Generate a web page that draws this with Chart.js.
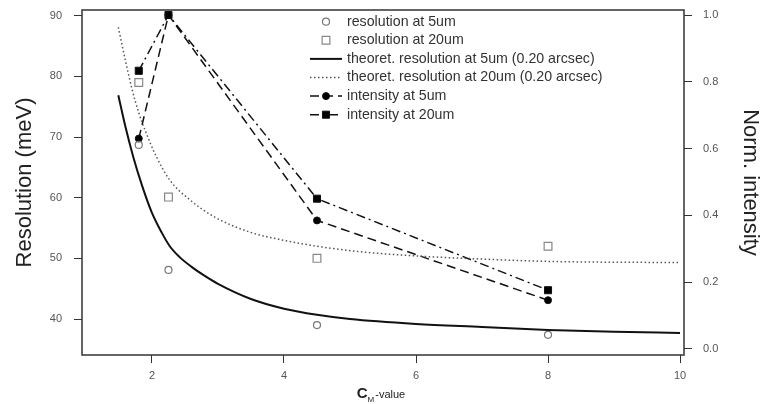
<!DOCTYPE html>
<html>
<head>
<meta charset="utf-8">
<script src="https://cdn.jsdelivr.net/npm/chart.js@4.4.1/dist/chart.umd.min.js"></script>
<style>
    html, body { margin: 0; padding: 0; background: #fff; }
    #wrap { width: 773px; height: 404px; position: relative; }
</style>
</head>
<body>
<div id="wrap"><canvas id="resChart"></canvas></div>
<script>
// measured points (C_M value on x)
const cmValues = [1.8, 2.25, 4.5, 8];
const res5um = [68.7, 48.1, 39.0, 37.4];
const res20um = [79.0, 60.1, 50.0, 52.0];
const int5um = [0.63, 1.0, 0.385, 0.146];
const int20um = [0.833, 1.0, 0.45, 0.176];

// theoretical curves
const theoX5 = [1.49, 1.6, 1.72, 1.85, 2.0, 2.15, 2.27, 2.42, 2.6, 2.8, 3.0, 3.5, 4.0, 4.5, 5.0, 6.0, 7.0, 8.0, 9.0, 10.0];
const theoY5 = [76.9, 71.6, 66.6, 62.0, 57.5, 54.2, 52.0, 50.2, 48.6, 47.1, 45.8, 43.3, 41.7, 40.7, 40.0, 39.2, 38.7, 38.2, 37.9, 37.7];
const theoX20 = [1.49, 1.6, 1.7, 1.8, 1.9, 2.07, 2.27, 2.58, 2.95, 3.49, 3.94, 4.5, 5.15, 6.0, 6.97, 8.0, 10.0];
const theoY20 = [88.1, 82.5, 77.8, 74.0, 71.0, 66.7, 62.9, 59.6, 56.8, 54.3, 53.1, 52.0, 51.1, 50.4, 49.9, 49.5, 49.3];

// tick labels
const xTicks = [2, 4, 6, 8, 10];
const resTicks = [40, 50, 60, 70, 80, 90];
const intTicks = [0, 0.2, 0.4, 0.6, 0.8, 1.0];

const toPoints = (xs, ys) => xs.map((x, i) => ({ x: x, y: ys[i] }));

const FONT = 'Liberation Sans, Arial, sans-serif';

// 축 라벨 때문에 플롯 영역이 줄어들지 않도록
const noPadding = (scale) => {
    scale.paddingTop = 0;
    scale.paddingBottom = 0;
    scale.paddingLeft = 0;
    scale.paddingRight = 0;
};

// 테두리, 범례, x축 제목
const frameAndLegend = {
    id: 'frameAndLegend',
    afterDraw: (chart) => {
        const { ctx, chartArea } = chart;
        ctx.save();

        ctx.strokeStyle = '#333';
        ctx.lineWidth = 1.5;
        ctx.strokeRect(chartArea.left, chartArea.top, chartArea.right - chartArea.left, chartArea.bottom - chartArea.top);

        // legend
        const lineX1 = chartArea.left + 228;
        const lineX2 = chartArea.left + 260;
        const textX = chartArea.left + 265;
        chart.data.datasets.forEach((ds, i) => {
            const y = chartArea.top + 11.7 + i * 18.6;
            if (ds.showLine) {
                ctx.beginPath();
                ctx.strokeStyle = ds.borderColor;
                ctx.lineWidth = ds.borderWidth;
                ctx.setLineDash(ds.borderDash || []);
                ctx.moveTo(lineX1, y);
                ctx.lineTo(lineX2, y);
                ctx.stroke();
                ctx.setLineDash([]);
            }
            if (ds.pointRadius > 0) {
                ctx.fillStyle = ds.backgroundColor;
                ctx.strokeStyle = ds.borderColor;
                ctx.lineWidth = ds.pointBorderWidth;
                Chart.helpers.drawPoint(ctx, {
                    pointStyle: ds.pointStyle,
                    radius: ds.pointRadius,
                    rotation: 0,
                    borderWidth: ds.pointBorderWidth
                }, (lineX1 + lineX2) / 2, y);
            }
            ctx.fillStyle = '#333';
            ctx.font = '14.2px ' + FONT;
            ctx.textAlign = 'left';
            ctx.textBaseline = 'middle';
            ctx.fillText(ds.label, textX, y);
        });

        // x axis title: C with subscript M
        const cx = (chartArea.left + chartArea.right) / 2;
        const base = 398;
        ctx.fillStyle = '#222';
        ctx.textBaseline = 'alphabetic';
        ctx.font = 'bold 15px ' + FONT;
        const wC = ctx.measureText('C').width;
        ctx.font = '8px ' + FONT;
        const wM = ctx.measureText('M').width;
        ctx.font = '11px ' + FONT;
        const wV = ctx.measureText('-value').width;
        let x = cx - (wC + wM + 1 + wV) / 2 - 2;
        ctx.font = 'bold 15px ' + FONT;
        ctx.fillText('C', x, base);
        x += wC;
        ctx.font = '8px ' + FONT;
        ctx.fillText('M', x, base + 4);
        x += wM + 1;
        ctx.font = '11px ' + FONT;
        ctx.fillText('-value', x, base);

        ctx.restore();
    }
};

new Chart(document.getElementById('resChart'), {
    type: 'scatter',
    data: {
        datasets: [{
            label: 'resolution at 5um',
            data: toPoints(cmValues, res5um),
            yAxisID: 'y',
            showLine: false,
            pointStyle: 'circle',
            pointRadius: 3.5,
            pointBorderWidth: 1.2,
            borderColor: '#777',
            backgroundColor: 'rgba(255,255,255,0)'
        }, {
            label: 'resolution at 20um',
            data: toPoints(cmValues, res20um),
            yAxisID: 'y',
            showLine: false,
            pointStyle: 'rect',
            pointRadius: 5.5,
            pointBorderWidth: 1.2,
            borderColor: '#888',
            backgroundColor: 'rgba(255,255,255,0)'
        }, {
            label: 'theoret. resolution at 5um (0.20 arcsec)',
            data: toPoints(theoX5, theoY5),
            yAxisID: 'y',
            showLine: true,
            pointRadius: 0,
            borderColor: '#111',
            borderWidth: 2,
            cubicInterpolationMode: 'monotone'
        }, {
            label: 'theoret. resolution at 20um (0.20 arcsec)',
            data: toPoints(theoX20, theoY20),
            yAxisID: 'y',
            showLine: true,
            pointRadius: 0,
            borderColor: '#555',
            borderWidth: 1.5,
            borderDash: [1.5, 2.5],
            cubicInterpolationMode: 'monotone'
        }, {
            label: 'intensity at 5um',
            data: toPoints(cmValues, int5um),
            yAxisID: 'y2',
            showLine: true,
            borderColor: '#111',
            borderWidth: 1.5,
            borderDash: [9, 5],
            pointStyle: 'circle',
            pointRadius: 3.5,
            pointBorderWidth: 1,
            backgroundColor: '#000'
        }, {
            label: 'intensity at 20um',
            data: toPoints(cmValues, int20um),
            yAxisID: 'y2',
            showLine: true,
            borderColor: '#111',
            borderWidth: 1.5,
            borderDash: [9, 4, 2, 4],
            pointStyle: 'rect',
            pointRadius: 5,
            pointBorderWidth: 1,
            backgroundColor: '#000'
        }]
    },
    options: {
        responsive: true,
        maintainAspectRatio: false,
        animation: false,
        layout: { padding: { top: 10 } },
        plugins: {
            legend: { display: false },
            tooltip: { enabled: false }
        },
        scales: {
            x: {
                type: 'linear',
                min: 0.94,
                max: 10.06,
                afterBuildTicks: (scale) => { scale.ticks = xTicks.map(v => ({ value: v })); },
                afterFit: (scale) => { scale.height = 49; noPadding(scale); },
                border: { display: false },
                grid: { drawOnChartArea: false, tickLength: 8, color: '#333' },
                ticks: { color: '#555', font: { size: 11, family: FONT }, padding: 6 }
            },
            y: {
                position: 'left',
                min: 34.07,
                max: 90.94,
                afterBuildTicks: (scale) => { scale.ticks = resTicks.map(v => ({ value: v })); },
                afterFit: (scale) => { scale.width = 82; noPadding(scale); },
                border: { display: false },
                grid: { drawOnChartArea: false, tickLength: 8, color: '#333' },
                ticks: { color: '#555', font: { size: 11, family: FONT }, padding: 12 },
                title: {
                    display: true,
                    text: 'Resolution (meV)',
                    color: '#222',
                    font: { size: 22, family: FONT },
                    padding: { top: 12 }
                }
            },
            y2: {
                position: 'right',
                min: -0.018,
                max: 1.015,
                afterBuildTicks: (scale) => { scale.ticks = intTicks.map(v => ({ value: v })); },
                afterFit: (scale) => { scale.width = 89; noPadding(scale); },
                border: { display: false },
                grid: { drawOnChartArea: false, tickLength: 8, color: '#333' },
                ticks: {
                    color: '#555',
                    font: { size: 11, family: FONT },
                    padding: 11,
                    callback: (v) => v.toFixed(1)
                },
                title: {
                    display: true,
                    text: 'Norm. intensity',
                    color: '#222',
                    font: { size: 22, family: FONT },
                    padding: { top: 10 }
                }
            }
        }
    },
    plugins: [frameAndLegend]
});
</script>
</body>
</html>
